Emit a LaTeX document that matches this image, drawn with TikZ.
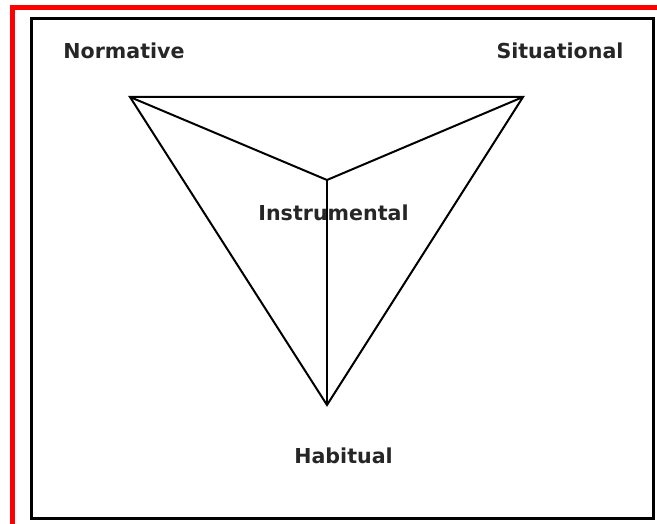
\documentclass[tikz,border=0pt]{standalone}
\usepackage{fontspec}
\setmainfont{DejaVu Sans}
\usetikzlibrary{positioning, calc}
\tikzset{
    corner/.style={font=\fontsize{20.6}{24}\selectfont\bfseries, text=black!85, inner sep=0pt},
    edge/.style={line width=2pt, black},
    frame/.style={line width=3pt, black},
    outerframe/.style={line width=5.5pt, red},
}

\begin{document}
\begin{tikzpicture}[x=1pt, y=-1pt]
    \useasboundingbox (0,0) rectangle (657,524);
    \clip (0,0) rectangle (657,524);
    \draw[outerframe] (12.5,7.5) rectangle (680,560);
    \draw[frame] (31.5,19) rectangle (653.5,518.5);
    % corners of the triangle
    \coordinate (nw) at (130,97);
    \coordinate (ne) at (523,97);
    \coordinate (bot) at (327,405);
    \coordinate (mid) at (327,180);
    \draw[edge, line join=miter] (nw) -- (ne) -- (bot) -- cycle;
    \draw[edge] (nw) -- (mid) -- (ne);
    \draw[edge] (mid) -- (bot);
    % labels
    \node[corner] (normative) at (124,51) {Normative};
    \node[corner] (situational) at (560,51) {Situational};
    \node[corner] (instrumental) at (333.5,213) {Instrumental};
    \node[corner] (habitual) at (343.5,456) {Habitual};
\end{tikzpicture}
\end{document}
